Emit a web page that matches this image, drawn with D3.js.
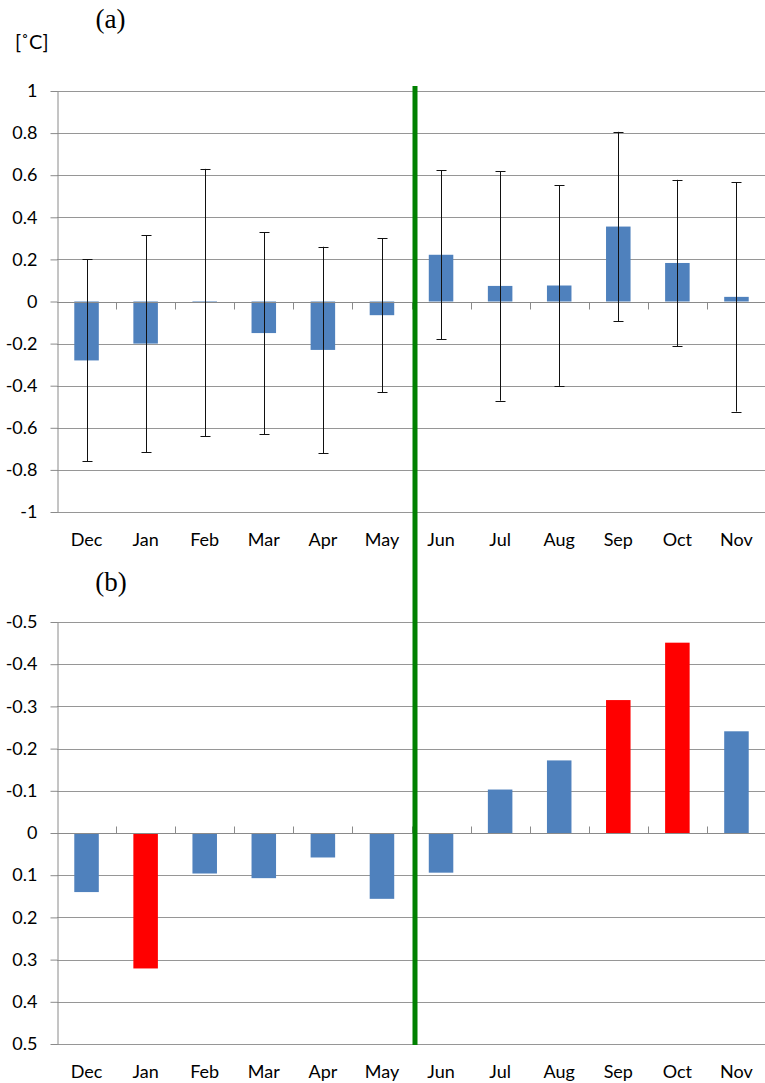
<!DOCTYPE html>
<html>
<head>
<meta charset="utf-8">
<script src="https://cdn.jsdelivr.net/npm/d3@7"></script>
<style>
  body { margin: 0; background: #fff; }
  svg { display: block; }
  text { font-family: Lato, "Open Sans", sans-serif; fill: #000; }
</style>
</head>
<body>
<div id="chart"></div>
<script>
// months of the year, starting in December
const months = ['Dec', 'Jan', 'Feb', 'Mar', 'Apr', 'May', 'Jun', 'Jul', 'Aug', 'Sep', 'Oct', 'Nov'];

// (a) mean anomaly and error bar half-length [°C]
const anomalyA = [-0.28, -0.2, -0.005, -0.15, -0.23, -0.065, 0.222, 0.074, 0.076, 0.356, 0.183, 0.022];
const errorA = [0.48, 0.515, 0.635, 0.48, 0.49, 0.365, 0.402, 0.545, 0.477, 0.45, 0.395, 0.545];

// (b) values, axis is reversed
const valuesB = [0.14, 0.321, 0.096, 0.107, 0.058, 0.156, 0.094, -0.103, -0.172, -0.315, -0.451, -0.241];
const redMonths = ['Jan', 'Sep', 'Oct'];

// tick labels
const ticksA = [1, 0.8, 0.6, 0.4, 0.2, 0, -0.2, -0.4, -0.6, -0.8, -1];
const ticksB = [-0.5, -0.4, -0.3, -0.2, -0.1, 0, 0.1, 0.2, 0.3, 0.4, 0.5];

const width = 765, height = 1083;
const left = 57, right = 766;
const colors = { bar: '#4f81bd', red: '#ff0000', grid: '#969696', axis: '#8a8a8a', green: '#008000' };

const svg = d3.select('#chart').append('svg')
    .attr('width', width)
    .attr('height', height);

// category bands, no padding: used for boundary ticks
const xBand = d3.scaleBand()
    .domain(months)
    .range([left, right]);
const barW = xBand.bandwidth() * 0.415;
const barX = d => xBand(d) + (xBand.bandwidth() - barW) / 2;

function drawPanel(cfg) {
    const y = d3.scaleLinear().domain(cfg.domain).range(cfg.range);
    const g = svg.append('g');

    // gridlines
    g.selectAll('.grid')
        .data(cfg.ticks)
        .join('line')
        .attr('class', 'grid')
        .attr('x1', left).attr('x2', right)
        .attr('y1', d => Math.round(y(d)) + 0.5)
        .attr('y2', d => Math.round(y(d)) + 0.5)
        .attr('stroke', colors.grid);

    // value axis
    const yAxis = d3.axisLeft(y)
        .tickValues(cfg.ticks)
        .tickFormat(d => String(d))
        .tickSize(7)
        .tickSizeOuter(0)
        .tickPadding(13);
    const yAxisG = g.append('g')
        .attr('transform', `translate(${left + 0.5},0)`)
        .call(yAxis);
    yAxisG.selectAll('line, path').attr('stroke', colors.axis);
    yAxisG.selectAll('text')
        .style('font-size', '18px')
        .style('font-family', 'Lato, sans-serif')
        .attr('fill', '#000');

    // bars
    g.selectAll('.bar')
        .data(months)
        .join('rect')
        .attr('class', 'bar')
        .attr('x', d => barX(d))
        .attr('width', barW)
        .attr('y', (d, i) => Math.min(y(0), y(cfg.values[i])))
        .attr('height', (d, i) => Math.abs(y(cfg.values[i]) - y(0)))
        .attr('fill', d => cfg.colorOf(d));

    // category axis at zero
    const y0 = Math.round(y(0)) + 0.5;
    g.append('line')
        .attr('x1', left).attr('x2', right)
        .attr('y1', y0).attr('y2', y0)
        .attr('stroke', colors.axis);
    g.selectAll('.ctick')
        .data(months.slice(1))
        .join('line')
        .attr('class', 'ctick')
        .attr('x1', d => Math.round(xBand(d)) + 0.5)
        .attr('x2', d => Math.round(xBand(d)) + 0.5)
        .attr('y1', y0)
        .attr('y2', y0 + cfg.tickDir * 7)
        .attr('stroke', colors.axis);

    // month labels below the plot
    const xAxis = d3.axisBottom(xBand).tickSize(0).tickPadding(0);
    const xAxisG = g.append('g')
        .attr('transform', `translate(0,${cfg.labelY})`)
        .call(xAxis);
    xAxisG.select('.domain').remove();
    xAxisG.selectAll('text')
        .attr('dy', null)
        .attr('y', 0)
        .style('font-size', '18px')
        .style('font-family', 'Lato, sans-serif')
        .attr('fill', '#000');

    return { g, y };
}

// panel (a)
const panelA = drawPanel({
    domain: [-1, 1], range: [512, 91], ticks: ticksA,
    values: anomalyA, colorOf: () => colors.bar,
    tickDir: 1, labelY: 546
});

// error bars
const yA = panelA.y;
const errG = panelA.g.selectAll('.err')
    .data(months)
    .join('g')
    .attr('class', 'err')
    .attr('transform', d => `translate(${Math.round(xBand(d) + xBand.bandwidth() / 2) + 0.5},0)`);
errG.append('line')
    .attr('y1', (d, i) => yA(anomalyA[i] + errorA[i]))
    .attr('y2', (d, i) => yA(anomalyA[i] - errorA[i]))
    .attr('stroke', '#111');
errG.append('line')
    .attr('x1', -5).attr('x2', 5)
    .attr('y1', (d, i) => Math.round(yA(anomalyA[i] + errorA[i])) + 0.5)
    .attr('y2', (d, i) => Math.round(yA(anomalyA[i] + errorA[i])) + 0.5)
    .attr('stroke', '#111');
errG.append('line')
    .attr('x1', -5).attr('x2', 5)
    .attr('y1', (d, i) => Math.round(yA(anomalyA[i] - errorA[i])) + 0.5)
    .attr('y2', (d, i) => Math.round(yA(anomalyA[i] - errorA[i])) + 0.5)
    .attr('stroke', '#111');

// panel (b), reversed axis
drawPanel({
    domain: [-0.5, 0.5], range: [622, 1044], ticks: ticksB,
    values: valuesB, colorOf: d => redMonths.includes(d) ? colors.red : colors.bar,
    tickDir: -1, labelY: 1078
});

// season divider between May and Jun
const divX = xBand('Jun') + 3.5;
svg.append('line')
    .attr('x1', divX).attr('x2', divX)
    .attr('y1', 86).attr('y2', 1045)
    .attr('stroke', colors.green)
    .attr('stroke-width', 5);

// titles
svg.append('text')
    .attr('x', 110.5).attr('y', 28)
    .attr('text-anchor', 'middle')
    .style('font-family', '"Liberation Serif", serif')
    .style('font-size', '27px')
    .text('(a)');
svg.append('text')
    .attr('x', 111).attr('y', 591)
    .attr('text-anchor', 'middle')
    .style('font-family', '"Liberation Serif", serif')
    .style('font-size', '27px')
    .text('(b)');
svg.append('text')
    .attr('x', 15).attr('y', 49)
    .style('font-size', '20px')
    .text('[˚C]');
</script>
</body>
</html>
